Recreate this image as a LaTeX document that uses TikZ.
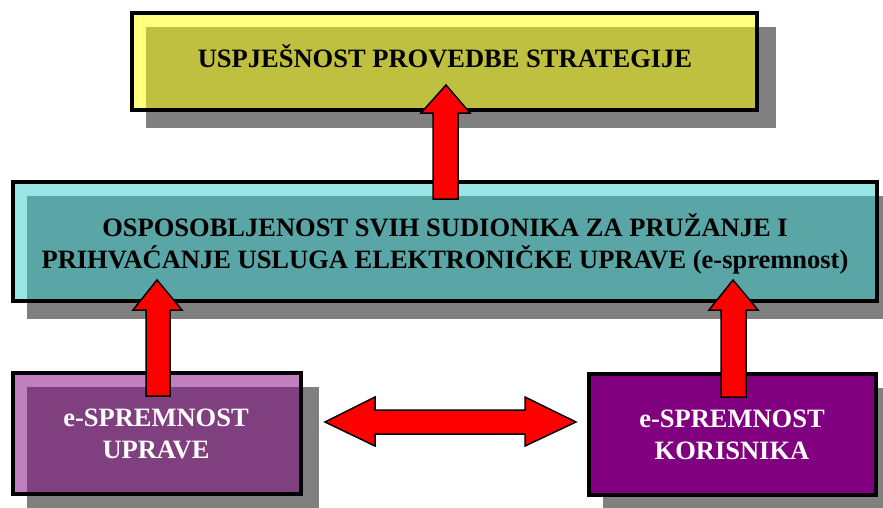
\documentclass[tikz,border=0pt]{standalone}
\usepackage{fontspec}
\setmainfont{Liberation Serif}
\definecolor{shadowgray}{HTML}{808080}
\definecolor{olivefill}{HTML}{C0C040}
\definecolor{olivelight}{HTML}{FFFF80}
\definecolor{tealfill}{HTML}{5AA5A5}
\definecolor{teallight}{HTML}{99E5E5}
\definecolor{plumfill}{HTML}{804080}
\definecolor{plumlight}{HTML}{C080C0}
\definecolor{purplefill}{HTML}{800080}
\begin{document}
\begin{tikzpicture}[x=1pt,y=-1pt,
    boxtext/.style={font=\fontsize{26.5}{32}\selectfont\bfseries, align=center, inner sep=0pt},
    boxframe/.style={draw=black, line width=4.5pt},
    blockarrow/.style={fill=red, draw=black, line width=1.5pt, line join=miter}]
\useasboundingbox (0,0) rectangle (883,507);

% Box: uspjesnost provedbe strategije
\fill [shadowgray] (146,27) rectangle (776,128);
\fill [olivelight] (132,13) rectangle (757,110);
\fill [olivefill] (146,27) rectangle (757,110);
\draw [boxframe] (132,13) rectangle (757,110);
\node [boxtext, anchor=base] (uspjesnost) at (445,67) {USPJEŠNOST PROVEDBE STRATEGIJE};

% Box: osposobljenost (e-spremnost)
\fill [shadowgray] (27,196) rectangle (895,319);
\fill [teallight] (13,182) rectangle (877,301);
\fill [tealfill] (27,196) rectangle (877,301);
\draw [boxframe] (13,182) rectangle (877,301);
\node [boxtext] (osposobljenost) at (445,244) {OSPOSOBLJENOST SVIH SUDIONIKA ZA PRUŽANJE I\\PRIHVAĆANJE USLUGA ELEKTRONIČKE UPRAVE (e-spremnost)};

% Box: e-spremnost uprave
\fill [shadowgray] (27,387) rectangle (319,512);
\fill [plumlight] (13,373) rectangle (301,494);
\fill [plumfill] (27,387) rectangle (301,494);
\draw [boxframe] (13,373) rectangle (301,494);
\node [boxtext, text=white] (uprave) at (156,434) {e-SPREMNOST\\UPRAVE};

% Box: e-spremnost korisnika
\fill [shadowgray] (603,388) rectangle (894,513);
\fill [purplefill] (589,374) rectangle (876,495);
\draw [boxframe] (589,374) rectangle (876,495);
\node [boxtext, text=white] (korisnika) at (732,435) {e-SPREMNOST\\KORISNIKA};

% Arrow: osposobljenost -> uspjesnost
\draw [blockarrow] (433,199) -- (433,113) -- (421,113) -- (446,85) -- (470,113) -- (458,113) -- (458,199) -- cycle;

% Arrow: uprave -> osposobljenost
\draw [blockarrow] (146,396) -- (146,310) -- (133,310) -- (157,280) -- (182,310) -- (170,310) -- (170,396) -- cycle;

% Arrow: korisnika -> osposobljenost
\draw [blockarrow] (721,397) -- (721,310) -- (709,310) -- (733,280) -- (758,310) -- (746,310) -- (746,397) -- cycle;

% Arrow: uprave <-> korisnika
\draw [blockarrow] (325,422) -- (375,397) -- (375,410) -- (525,410) -- (525,397) -- (576,422) -- (525,446) -- (525,434) -- (375,434) -- (375,446) -- cycle;
\end{tikzpicture}
\end{document}
